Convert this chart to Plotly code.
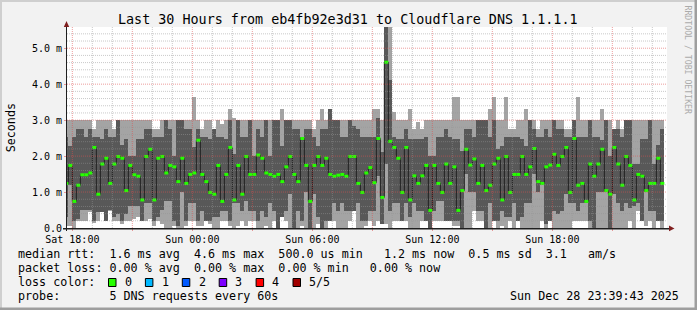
import plotly.graph_objects as go
import pandas as pd

# ---------------- data (12-minute consolidated steps, ms) ----------------
median = [1.24,1.74,0.74,1.19,1.48,1.48,1.53,2.24,0.94,1.78,1.94,1.24,1.78,1.99,1.94,1.04,1.74,1.48,1.44,0.78,1.99,2.19,0.78,1.94,1.99,
          1.53,1.74,1.70,1.29,1.94,1.24,1.49,1.53,2.44,1.49,1.29,0.99,0.94,1.74,0.74,1.49,2.24,0.78,1.74,0.94,1.99,1.49,1.49,2.03,1.94,
          1.53,1.49,1.44,1.49,1.29,1.70,1.99,1.49,1.29,2.49,1.74,0.74,1.74,1.99,1.74,1.94,1.49,1.44,1.47,1.49,1.44,1.99,1.99,1.24,0.99,
          1.53,1.68,1.26,2.49,0.85,4.61,2.41,2.24,1.94,0.99,2.24,0.78,1.45,1.24,1.45,1.74,0.49,1.74,1.24,0.99,1.78,1.24,1.70,0.49,1.04,
          2.19,1.75,1.92,1.24,1.74,1.04,1.19,1.78,1.94,0.78,1.99,0.99,1.49,1.49,1.99,1.49,1.70,2.21,1.29,1.24,1.70,1.75,2.05,1.74,1.99,
          2.24,0.99,2.49,1.19,1.24,0.74,1.78,1.44,1.78,2.19,1.04,0.94,2.24,1.78,1.19,1.99,1.74,0.78,1.49,1.44,1.04,1.24,1.24,1.94,1.24]

ping_max = [3.0,3.0,3.0,3.0,3.0,3.0,3.0,2.75,3.0,3.0,3.0,3.0,2.75,3.0,3.0,3.0,3.0,3.0,3.0,3.0,3.0,3.0,2.75,2.75,3.0,
            3.0,3.0,3.0,3.0,3.0,3.0,3.0,3.64,3.0,2.75,3.0,3.0,2.75,3.0,2.90,3.0,3.31,3.05,3.0,3.0,3.0,3.0,3.0,3.0,3.0,
            3.0,3.0,3.0,3.0,3.31,3.0,3.0,3.0,3.0,3.0,3.0,3.0,2.75,3.0,3.31,3.0,3.31,3.0,3.0,3.0,3.0,3.0,3.0,3.0,3.0,
            3.0,3.0,3.31,3.31,3.0,5.6,5.6,3.24,3.0,3.0,3.0,3.31,2.75,2.94,2.75,3.0,3.0,3.0,3.0,3.0,3.0,3.0,3.64,3.64,3.0,
            3.0,3.0,3.0,3.0,3.0,3.0,3.31,3.64,3.0,3.0,3.64,2.75,2.75,3.0,3.0,3.31,3.0,3.0,2.75,3.0,3.0,3.0,3.0,3.0,3.0,
            2.75,2.75,3.0,3.64,3.0,3.0,3.0,3.0,3.0,3.31,3.0,3.0,2.75,3.0,2.75,3.0,3.0,3.0,3.0,3.0,3.0,3.0,3.0,3.0,3.0]

ping_hi = [2.52,2.29,2.52,2.75,2.75,2.52,2.75,2.52,2.52,2.48,2.75,2.52,2.52,3.0,2.30,2.48,2.00,2.00,2.48,2.48,2.75,2.75,2.52,2.52,2.52,
           3.0,2.75,2.00,3.0,3.0,2.75,2.75,2.24,2.75,2.52,2.52,2.48,2.75,2.52,2.52,2.48,3.0,2.05,3.0,2.52,2.52,3.0,2.00,2.75,2.52,
           3.0,2.00,3.0,3.0,2.29,3.0,3.0,2.75,2.75,2.52,2.75,2.75,2.52,2.29,2.75,2.75,3.31,3.0,3.0,2.52,2.52,3.0,2.85,2.75,2.52,
           2.52,2.52,2.52,3.05,2.10,5.6,4.11,2.52,2.48,2.48,2.75,2.48,2.48,2.48,2.48,2.52,2.00,2.00,2.52,2.52,2.75,2.52,2.48,2.48,2.15,
           2.75,2.75,2.52,3.0,3.0,3.0,2.52,3.0,2.20,2.29,2.52,2.52,2.52,2.52,2.48,2.29,3.0,2.75,2.52,2.52,2.75,2.52,3.0,2.75,2.75,
           2.52,2.52,3.0,2.52,2.52,2.52,3.0,2.52,2.52,2.45,3.0,2.00,2.75,2.75,2.52,3.0,3.0,1.78,1.78,2.48,2.48,3.0,1.78,2.30,2.75]

ping_lo = [0.30,1.20,0.20,0.25,0.50,0.50,0.50,0.20,0.45,0.45,0.20,0.50,0.30,0.40,0.20,0.40,0.60,0.60,0.60,0.20,0.70,0.70,0.20,0.30,0.50,
           0.75,0.75,0.20,0.05,1.00,0.20,0.70,0.70,0.20,0.48,0.20,0.20,0.30,0.30,0.48,0.48,0.20,0.70,0.70,0.48,0.75,0.48,0.48,0.20,0.48,
           0.30,0.70,0.48,0.00,0.30,0.48,0.95,0.00,0.48,0.20,1.00,0.00,0.95,0.30,0.00,0.20,0.20,0.70,0.48,0.70,0.48,0.48,0.48,0.70,0.20,
           0.20,0.48,0.48,1.45,0.10,1.78,0.48,0.70,0.70,0.20,0.70,0.30,0.70,0.48,0.48,0.20,0.00,0.48,0.75,0.75,0.20,0.20,0.20,0.20,0.00,
           1.50,1.00,1.00,0.48,0.48,0.00,0.70,0.20,0.20,0.48,0.30,0.30,0.70,0.20,0.30,0.70,0.70,1.50,1.00,1.20,0.10,0.20,0.48,0.40,0.48,
           0.95,0.70,0.70,0.48,0.70,0.70,0.20,0.00,1.00,1.00,1.00,0.00,0.95,0.70,0.48,0.70,0.55,0.60,0.70,0.20,1.00,0.48,0.48,0.20,0.20]

ping_min = [0.05,0.05,0.00,0.20,0.20,0.20,0.45,0.15,0.20,0.45,0.20,0.48,0.20,0.20,0.10,0.20,0.20,0.25,0.30,0.20,0.20,0.25,0.05,0.20,0.10,
            0.00,0.00,0.05,0.00,0.00,0.05,0.20,0.20,0.05,0.05,0.20,0.10,0.00,0.00,0.20,0.20,0.05,0.00,0.05,0.20,0.05,0.20,0.20,0.00,0.00,
            0.05,0.00,0.20,0.00,0.30,0.20,0.00,0.00,0.00,0.05,0.00,0.00,0.00,0.10,0.00,0.00,0.20,0.20,0.00,0.00,0.00,0.20,0.48,0.00,0.00,
            0.05,0.20,0.05,0.20,0.10,0.10,0.00,0.20,0.20,0.20,0.20,0.00,0.00,0.00,0.20,0.20,0.00,0.20,0.20,0.20,0.20,0.20,0.05,0.05,0.00,
            0.00,0.00,0.48,0.20,0.20,0.00,0.00,0.20,0.00,0.05,0.00,0.20,0.00,0.20,0.00,0.00,0.00,0.00,0.00,0.20,0.00,0.20,0.00,0.00,0.00,
            0.00,0.00,0.20,0.20,0.20,0.20,0.00,0.00,0.00,0.00,0.00,0.00,0.00,0.00,0.00,0.00,0.20,0.00,0.48,0.20,0.05,0.20,0.00,0.20,0.00]

tick_labels = ["Sat 18:00", "Sun 00:00", "Sun 06:00", "Sun 12:00", "Sun 18:00"]
y_tick_labels = ["0.0", "1.0 m", "2.0 m", "3.0 m", "4.0 m", "5.0 m"]
loss_labels = ["0", "1", "2", "3", "4", "5/5"]
loss_colors = ["#26ff00", "#00b8ff", "#0059ff", "#7e00ff", "#ff0000", "#a10000"]

title = "Last 30 Hours from eb4fb92e3d31 to Cloudflare DNS 1.1.1.1"
legend_lines = [
    "median rtt:  1.6 ms avg  4.6 ms max  500.0 us min   1.2 ms now  0.5 ms sd  3.1   am/s",
    "packet loss: 0.00 % avg  0.00 % max  0.00 % min   0.00 % now",
    "loss color:",
    "probe:       5 DNS requests every 60s",
]
stamp = "Sun Dec 28 23:39:43 2025"

# ---------------- geometry ----------------
W, H = 697, 310
L, R, T, B = 67, 30, 27, 82
PW, PH = W - L - R, H - T - B


def xp(px):
    return (px - L) / PW


def yp(py):
    return (H - B - py) / PH


times = pd.date_range("2025-12-27 17:42:00", periods=len(median), freq="12min")
step_ms = 12 * 60 * 1000
x_start = pd.Timestamp("2025-12-27 17:44:00")
x_end = x_start + pd.Timedelta(hours=30)

MONO = "DejaVu Sans Mono"
GRID = "rgba(150,150,150,0.5)"
MGRID = "rgba(222,79,79,0.55)"

fig = go.Figure()
fig.add_bar(x=times, y=[a - b for a, b in zip(ping_max, ping_min)], base=ping_min,
            width=step_ms, marker=dict(color="#a4a4a4", line=dict(width=0)), hoverinfo="skip")
fig.add_bar(x=times, y=[a - b for a, b in zip(ping_hi, ping_lo)], base=ping_lo,
            width=step_ms, marker=dict(color="#585858", line=dict(width=0)), hoverinfo="skip")
fig.add_scatter(x=times, y=median, mode="lines",
                line=dict(color="#202020", width=1, shape="hvh"), hoverinfo="skip")
half = pd.Timedelta(minutes=6)
gx, gy = [], []
for t, m in zip(times, median):
    gx += [t - half, t + half, None]
    gy += [m, m, None]
fig.add_scatter(x=gx, y=gy, mode="lines", line=dict(color="#26ff00", width=3), hoverinfo="skip")

shapes = []
# vertical grid (hourly, red every 3 h)
g0 = pd.Timestamp("2025-12-27 18:00")
for h in range(30):
    t = g0 + pd.Timedelta(hours=h)
    shapes.append(dict(type="line", xref="x", yref="paper", x0=t, x1=t, y0=0, y1=1, layer="above",
                       line=dict(color=MGRID if h % 3 == 0 else GRID, width=1, dash="1px,1px")))
# horizontal grid (0.2 ms, red every 1 ms)
for k in range(1, 28):
    v = k * 0.2
    shapes.append(dict(type="line", xref="paper", yref="y", x0=0, x1=1, y0=v, y1=v, layer="above",
                       line=dict(color=MGRID if k % 5 == 0 else GRID, width=1, dash="1px,1px")))
# axes + arrows
shapes.append(dict(type="line", xref="paper", yref="paper", x0=xp(66.5), x1=xp(66.5), y0=yp(231), y1=yp(24),
                   line=dict(color="#1f1f1f", width=1), layer="above"))
shapes.append(dict(type="line", xref="paper", yref="paper", x0=xp(63), x1=xp(670), y0=yp(228.8), y1=yp(228.8),
                   line=dict(color="#1f1f1f", width=1.6), layer="above"))
shapes.append(dict(type="path", xref="paper", yref="paper", layer="above",
                   path=f"M {xp(63.8)},{yp(27)} L {xp(69.2)},{yp(27)} L {xp(66.5)},{yp(21)} Z",
                   fillcolor="#801f1f", line=dict(width=0)))
shapes.append(dict(type="path", xref="paper", yref="paper", layer="above",
                   path=f"M {xp(669)},{yp(225.5)} L {xp(669)},{yp(231.3)} L {xp(674.5)},{yp(228.4)} Z",
                   fillcolor="#801f1f", line=dict(width=0)))
# frame shading
shapes.append(dict(type="rect", xref="paper", yref="paper", x0=xp(0), x1=xp(W), y0=yp(0), y1=yp(2),
                   fillcolor="#cfcfcf", line=dict(width=0)))
shapes.append(dict(type="rect", xref="paper", yref="paper", x0=xp(0), x1=xp(2), y0=yp(0), y1=yp(H),
                   fillcolor="#cfcfcf", line=dict(width=0)))
shapes.append(dict(type="rect", xref="paper", yref="paper", x0=xp(0), x1=xp(W), y0=yp(H - 2.5), y1=yp(H),
                   fillcolor="#9e9e9e", line=dict(width=0)))
shapes.append(dict(type="rect", xref="paper", yref="paper", x0=xp(W - 2.5), x1=xp(W), y0=yp(0), y1=yp(H),
                   fillcolor="#9e9e9e", line=dict(width=0)))
# loss colour boxes
for i, c in enumerate(loss_colors):
    x0 = 108.5 + 36.9 * i
    shapes.append(dict(type="rect", xref="paper", yref="paper", x0=xp(x0), x1=xp(x0 + 7.5),
                       y0=yp(286.5), y1=yp(278.5), fillcolor=c, line=dict(color="#000000", width=1)))

ann = []


def text(s, x, y, size, xanchor="left", color="#000000", angle=0):
    ann.append(dict(text=s.replace(" ", "\u00a0"), xref="paper", yref="paper", x=xp(x), y=yp(y),
                    xanchor=xanchor, yanchor="middle", showarrow=False, textangle=angle,
                    font=dict(family=MONO, size=size, color=color)))


text(title, 348, 19.4, 13.4, xanchor="center")
base_y = [253.7, 267.7, 281.7, 295.7]
for s, y in zip(legend_lines, base_y):
    text(s, 15.5, y, 11.7)
for i, lab in enumerate(loss_labels):
    text(lab, 122.7 + 36.9 * i, 281.7, 11.7)
text(stamp, 681, 295.7, 11.7, xanchor="right")
text("Seconds", 10.8, 127.5, 11.7, xanchor="center", angle=-90)
text("RRDTOOL / TOBI OETIKER", 688, 59.5, 8.2, xanchor="center", color="#ababab", angle=90)

tickvals = [g0 + pd.Timedelta(hours=3 * i) for i in range(10)]
ticktext = [tick_labels[i // 2] if i % 2 == 0 else "" for i in range(10)]

fig.update_layout(
    width=W, height=H, margin=dict(l=L, r=R, t=T, b=B, pad=0, autoexpand=False),
    paper_bgcolor="#f2f2f2", plot_bgcolor="#ffffff", showlegend=False,
    barmode="overlay", bargap=0, hovermode=False,
    font=dict(family=MONO, size=10, color="#000000"),
    shapes=shapes, annotations=ann,
)
fig.update_xaxes(type="date", range=[x_start, x_end], tickmode="array", tickvals=tickvals, ticktext=ticktext,
                 ticks="outside", ticklen=2, tickcolor=MGRID, showgrid=False, zeroline=False, showline=False,
                 tickfont=dict(family=MONO, size=10, color="#000000"), fixedrange=True)
fig.update_yaxes(range=[0, 5.59], tickmode="array", tickvals=[0, 1, 2, 3, 4, 5], ticktext=y_tick_labels,
                 ticks="outside", ticklen=2, tickcolor=MGRID, showgrid=False, zeroline=False, showline=False,
                 tickfont=dict(family=MONO, size=10, color="#000000"), fixedrange=True)

fig.write_html("out.html", config={"displayModeBar": False})
